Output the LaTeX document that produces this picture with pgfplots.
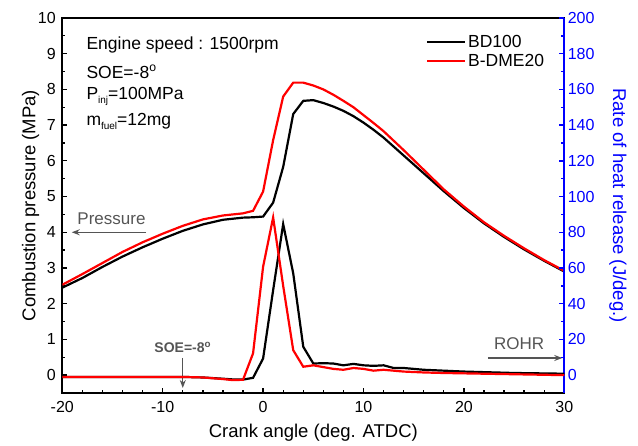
\documentclass[border=0pt]{standalone}
\usepackage{fontspec}
\setmainfont{Liberation Sans}
\usepackage{pgfplots}
\pgfplotsset{compat=1.18}
\usetikzlibrary{arrows.meta}
\definecolor{anngray}{RGB}{85,85,85}
\begin{document}
\begin{tikzpicture}
\path[use as bounding box] (-62.3pt,-53pt) rectangle (575.7pt,393pt);
\begin{axis}[
 at={(0pt,0pt)}, anchor=south west,
 scale only axis, width=502pt, height=375pt,
 xmin=-20, xmax=30, ymin=-0.5, ymax=10,
 xtick={-20,-10,...,30}, ytick={0,1,...,10},
 minor x tick num=4, minor y tick num=1,
 xtick pos=left, ytick pos=left,
 tick align=inside,
 major tick length=5pt, minor tick length=3pt,
 axis line style={line width=1.7pt},
 every tick/.style={black, line width=1.3pt},
 tick label style={font=\fontsize{16}{16}\selectfont},
 xticklabel style={yshift=-5pt},
 yticklabel style={xshift=-3pt},
 /pgf/number format/assume math mode=true,
 xlabel={Crank angle (deg. ATDC)},
 ylabel={Combustion pressure (MPa)},
 xlabel shift=4pt, ylabel shift=-8pt,
 label style={font=\fontsize{18.5}{18.5}\selectfont},
 legend style={draw=none, fill=none, at={(0.718,0.965)}, anchor=north west,
   font=\fontsize{17.5}{17.5}\selectfont, row sep=1pt, cells={anchor=west}},
 legend image code/.code={\draw[#1] (0pt,0pt) -- (38pt,0pt);},
]
\addplot[black, line width=2.2pt] coordinates {
(-20,2.45) (-18,2.72) (-16,3.03) (-14,3.32) (-12,3.58) (-10,3.82) (-8,4.04) (-6,4.22) (-4,4.35) (-3,4.38) (-2,4.41) (-1,4.42) (0,4.44) (1,4.83) (2,5.83) (3,7.31) (4,7.68) (5,7.70) (6,7.62) (7,7.52) (8,7.40) (9,7.25) (10,7.07) (11,6.87) (12,6.65) (14,6.15) (16,5.65) (18,5.15) (20,4.68) (22,4.25) (24,3.87) (26,3.52) (28,3.20) (30,2.90)};
\addlegendentry{BD100}
\addplot[red, line width=2.2pt] coordinates {
(-20,2.53) (-18,2.83) (-16,3.14) (-14,3.45) (-12,3.72) (-10,3.96) (-8,4.18) (-6,4.36) (-4,4.47) (-3,4.50) (-2,4.53) (-1,4.60) (0,5.14) (1,6.58) (2,7.80) (3,8.19) (4,8.19) (5,8.11) (6,8.00) (7,7.85) (8,7.68) (9,7.50) (10,7.28) (11,7.06) (12,6.83) (14,6.30) (16,5.75) (18,5.20) (20,4.72) (22,4.28) (24,3.90) (26,3.55) (28,3.22) (30,2.92)};
\addlegendentry{B-DME20}
\node[anchor=west, font=\fontsize{17.5}{17.5}\selectfont] at (axis cs:-17.94,9.24) {Engine speed : 1500rpm};
\node[anchor=west, font=\fontsize{17.5}{17.5}\selectfont] at (axis cs:-17.94,8.49) {SOE=-8\textsuperscript{o}};
\node[anchor=west, font=\fontsize{17.5}{17.5}\selectfont] at (axis cs:-17.94,7.79) {P\raisebox{-4pt}{\fontsize{10}{10}\selectfont inj}=100MPa};
\node[anchor=west, font=\fontsize{17.5}{17.5}\selectfont] at (axis cs:-17.94,7.09) {m\raisebox{-4pt}{\fontsize{10}{10}\selectfont fuel}=12mg};
\draw[anngray, line width=1.2pt, -{Stealth[length=8pt,width=6pt]}] (axis cs:-11.66,4.0) -- (axis cs:-19.06,4.0);
\node[anngray, font=\fontsize{17}{17}\selectfont] at (axis cs:-15.1,4.38) {Pressure};
\draw[anngray, line width=1.2pt, -{Stealth[length=8pt,width=6pt]}] (axis cs:-8,0.48) -- (axis cs:-8,-0.36);
\node[anngray, font=\bfseries\fontsize{14}{14}\selectfont] at (axis cs:-8,0.78) {SOE=-8\textsuperscript{o}};
\draw[anngray, line width=1.2pt, -{Stealth[length=8pt,width=6pt]}] (axis cs:22.4,0.48) -- (axis cs:29.8,0.48);
\node[anngray, font=\fontsize{17}{17}\selectfont] at (axis cs:25.5,0.88) {ROHR};
\end{axis}
\begin{axis}[
 at={(0pt,0pt)}, anchor=south west,
 scale only axis, width=502pt, height=375pt,
 xmin=-20, xmax=30, ymin=-10, ymax=200,
 axis x line=none, axis y line*=right,
 ytick={0,20,...,200}, minor y tick num=1,
 tick align=inside,
 major tick length=5pt, minor tick length=3pt,
 y axis line style={blue, line width=1.7pt},
 every tick/.style={blue, line width=1.3pt},
 tick label style={font=\fontsize{16}{16}\selectfont, blue},
 /pgf/number format/assume math mode=true,
 ylabel={Rate of heat release (J/deg.)},
 ylabel shift=8pt,
 ylabel style={blue, rotate=180, font=\fontsize{18.5}{18.5}\selectfont},
]
\addplot[black, line width=2.2pt] coordinates {
(-20,-1) (-15,-1) (-10,-1) (-8,-1) (-6,-1.3) (-4,-2) (-3,-2.4) (-2,-2.5) (-1,-1.5) (0,9.3) (1,47.6) (2,84.6) (3,57) (4,15.9) (5,6.5) (6,6.7) (7,6.5) (8,5.5) (9,6.3) (10,5.5) (11,5.2) (12,5.5) (13,4) (14,4) (16,3) (18,2.5) (20,2) (25,1.2) (30,0.8)};
\addplot[red, line width=2.2pt] coordinates {
(-20,-1) (-15,-1) (-10,-1) (-8,-1) (-6,-1.3) (-4,-2.2) (-3,-2.8) (-2,-2.6) (-1,12.2) (0,60.7) (1,88.3) (2,50) (3,14) (4,4.7) (5,5.5) (6,4.5) (7,3.5) (8,3) (9,4) (10,3.5) (11,2.5) (12,3) (14,2) (16,1.5) (18,1.2) (20,1) (25,0.5) (30,0)};
\end{axis}
\end{tikzpicture}
\end{document}
